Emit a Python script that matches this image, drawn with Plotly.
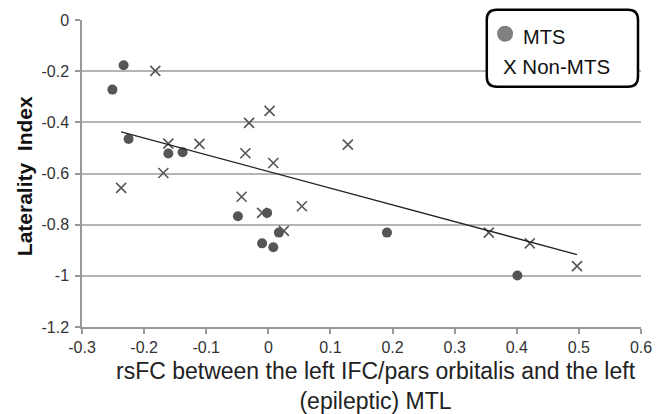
import plotly.graph_objects as go

# MTS patients (filled circles)
mts_x = [-0.251, -0.233, -0.225, -0.161, -0.138, -0.049, -0.002, -0.010, 0.008, 0.017, 0.191, 0.401]
mts_y = [-0.272, -0.177, -0.465, -0.522, -0.517, -0.767, -0.754, -0.873, -0.888, -0.831, -0.831, -0.999]

# Non-MTS patients (x markers)
non_x = [-0.182, -0.237, -0.169, -0.161, -0.111, 0.002, -0.031, -0.037, 0.008, -0.043,
         0.054, 0.128, -0.010, 0.025, 0.355, 0.421, 0.497]
non_y = [-0.199, -0.656, -0.598, -0.483, -0.484, -0.355, -0.402, -0.521, -0.559, -0.691,
         -0.728, -0.487, -0.754, -0.824, -0.831, -0.873, -0.962]

# Trend line endpoints
trend_x = [-0.237, 0.497]
trend_y = [-0.437, -0.917]

x_ticks = [-0.3, -0.2, -0.1, 0, 0.1, 0.2, 0.3, 0.4, 0.5, 0.6]
x_tick_labels = ["-0.3", "-0.2", "-0.1", "0", "0.1", "0.2", "0.3", "0.4", "0.5", "0.6"]
y_ticks = [0, -0.2, -0.4, -0.6, -0.8, -1, -1.2]
y_tick_labels = ["0", "-0.2", "-0.4", "-0.6", "-0.8", "-1", "-1.2"]

FONT = "Arial, Liberation Sans, sans-serif"

fig = go.Figure()
fig.add_trace(go.Scatter(
    x=mts_x, y=mts_y, mode="markers", name="MTS",
    marker=dict(symbol="circle", size=10, color="#555555"),
    showlegend=False, cliponaxis=False))
fig.add_trace(go.Scatter(
    x=non_x, y=non_y, mode="markers", name="Non-MTS",
    marker=dict(symbol="x-thin-open", size=10, line=dict(width=1.6, color="#555555"), color="#555555"),
    showlegend=False, cliponaxis=False))
fig.add_trace(go.Scatter(
    x=trend_x, y=trend_y, mode="lines",
    line=dict(color="#222222", width=1.3), showlegend=False))

# Legend box (rounded rectangle, paper coords)
L, R, T, B = 81.7, 641.0, 20.3, 327.0
W, H = R - L, B - T
x0, x1 = (486.7 - L) / W, (638 - L) / W
y0, y1 = (B - 87) / H, (B - 10) / H
rx, ry = 10 / W, 10 / H
path = (f"M {x0+rx},{y1} L {x1-rx},{y1} Q {x1},{y1} {x1},{y1-ry} "
        f"L {x1},{y0+ry} Q {x1},{y0} {x1-rx},{y0} L {x0+rx},{y0} "
        f"Q {x0},{y0} {x0},{y0+ry} L {x0},{y1-ry} Q {x0},{y1} {x0+rx},{y1} Z")
shapes = [
    dict(type="path", path=path, xref="paper", yref="paper",
         line=dict(color="black", width=2.5), fillcolor="white", layer="above"),
    dict(type="circle", xref="paper", yref="paper",
         x0=(505 - 8 - L) / W, x1=(505 + 8 - L) / W,
         y0=(B - 34 - 8) / H, y1=(B - 34 + 8) / H,
         fillcolor="#808080", line=dict(width=0), layer="above"),
]
annotations = [
    dict(text="MTS", x=(521 - L) / W, y=(B - 37.5) / H, xref="paper", yref="paper",
         xanchor="left", yanchor="middle", showarrow=False,
         font=dict(family=FONT, size=20, color="#111111")),
    dict(text="X Non-MTS", x=(501 - L) / W, y=(B - 67) / H, xref="paper", yref="paper",
         xanchor="left", yanchor="middle", showarrow=False,
         font=dict(family=FONT, size=20.5, color="#111111")),
    dict(text="rsFC between the left IFC/pars orbitalis and the left<br>(epileptic) MTL",
         x=(376 - L) / W, y=(B - 356) / H, xref="paper", yref="paper",
         xanchor="center", yanchor="top", showarrow=False, align="center",
         font=dict(family=FONT, size=23, color="#222222")),
    dict(text="<b>Laterality  Index</b>", textangle=-90,
         x=(25 - L) / W, y=(B - 176) / H, xref="paper", yref="paper",
         xanchor="center", yanchor="middle", showarrow=False,
         font=dict(family=FONT, size=21, color="#111111")),
]

fig.update_layout(
    width=660, height=414,
    margin=dict(l=L, r=660 - R, t=T, b=414 - B, autoexpand=False),
    paper_bgcolor="white", plot_bgcolor="white",
    font=dict(family=FONT, size=16, color="#333333"),
    shapes=shapes, annotations=annotations,
    xaxis=dict(range=[-0.3, 0.6], tickvals=x_ticks, ticktext=x_tick_labels, automargin=False,
               showgrid=False, zeroline=False, showline=True, linecolor="#999999", linewidth=1.5,
               ticks="outside", ticklen=5, tickcolor="#999999", tickwidth=1.5,
               tickfont=dict(family=FONT, size=16, color="#333333")),
    yaxis=dict(range=[-1.2, 0], tickvals=y_ticks, ticktext=y_tick_labels, automargin=False,
               showgrid=True, gridcolor="#b5b5b5", gridwidth=1.5,
               zeroline=False, showline=True, linecolor="#999999", linewidth=1.5,
               ticks="outside", ticklen=5, tickcolor="#999999", tickwidth=1.5,
               ticklabelstandoff=3,
               tickfont=dict(family=FONT, size=16, color="#333333")),
)

fig.write_html("out.html", config={"displayModeBar": False},
               post_script="document.body.style.margin='0';")
